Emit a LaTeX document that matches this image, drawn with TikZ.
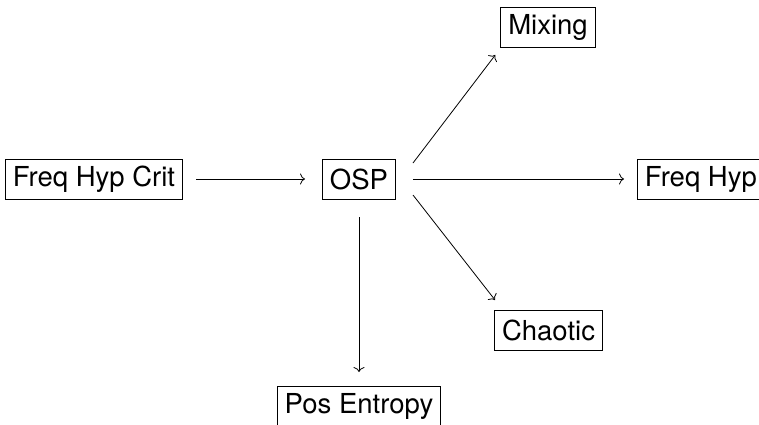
\documentclass[tikz,border=0pt]{standalone}
\usepackage{fontspec}
\setmainfont{TeX Gyre Heros}
\usetikzlibrary{arrows.meta}
\begin{document}
\begin{tikzpicture}[x=1pt,y=-1pt,
  box/.style={draw,line width=0.9pt,minimum height=40pt,inner xsep=7.5pt,inner ysep=0pt,
    font=\fontsize{27.5}{32}\selectfont},
  arr/.style={line width=0.8pt,-{To[length=5pt,width=11pt,line width=0.8pt]}}]
\useasboundingbox (0,0) rectangle (759,424);
\node[box] (hc) at (94,179) {Freq Hyp Crit};
\node[box] (osp) at (359,179) {OSP};
\node[box] (mix) at (548,27.5) {Mixing};
\node[box,anchor=west] (fh) at (637,179) {Freq Hyp};
\node[box] (ch) at (548.5,330.5) {Chaotic};
\node[box,anchor=north] (pe) at (359,386) {Pos Entropy};
\draw[arr,shorten <=13pt,shorten >=17pt] (hc.east) -- (osp.west);
\draw[arr,shorten <=17pt,shorten >=13pt] (osp.east) -- (fh.west);
\draw[arr,shorten <=18pt,shorten >=14pt] (osp.south) -- (pe.north);
\draw[arr] ([shift={(17,-16)}]osp.east) -- ([shift={(-5,7)}]mix.south west);
\draw[arr] ([shift={(17,16)}]osp.east) -- ([shift={(1,-10)}]ch.north west);
\end{tikzpicture}
\end{document}
